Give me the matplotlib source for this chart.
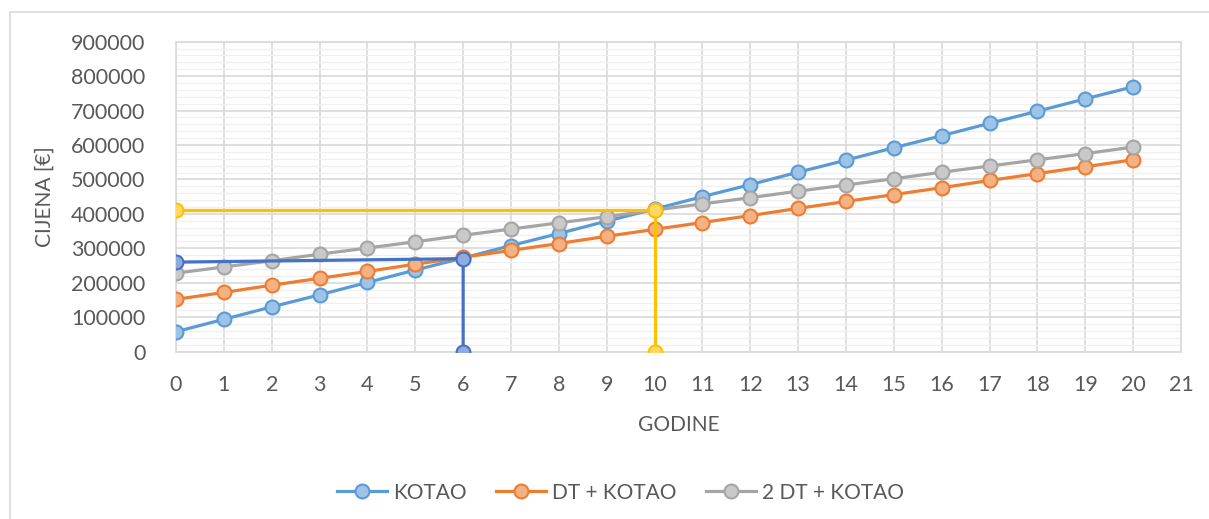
import matplotlib.pyplot as plt
from matplotlib.patches import Rectangle
from matplotlib.ticker import MultipleLocator

plt.rcParams['font.family'] = ['Lato', 'DejaVu Sans']

# years
godine = list(range(21))

kotao = [58000, 94000, 130000, 165000, 201000, 237000, 272000, 308000, 343000, 379000,
         414000, 450000, 485000, 521000, 556000, 592000, 627000, 663000, 698000, 734000, 769000]
dt_kotao = [152000, 172000, 193000, 213000, 233000, 254000, 274000, 294000, 314000, 335000,
            355000, 375000, 395000, 416000, 436000, 456000, 476000, 497000, 517000, 537000, 557000]
dt2_kotao = [228000, 246000, 264000, 283000, 301000, 319000, 338000, 356000, 374000, 392000,
             411000, 429000, 447000, 466000, 484000, 502000, 521000, 539000, 557000, 575000, 594000]

# helper lines (break-even points)
pov1_x = [0, 6, 6]
pov1_y = [260000, 270000, 0]
pov2_x = [0, 10, 10]
pov2_y = [410000, 410000, 0]

series = [
    (kotao, 'KOTAO', '#5B9BD5', '#9DC3E6'),
    (dt_kotao, 'DT + KOTAO', '#ED7D31', '#F4B183'),
    (dt2_kotao, '2 DT + KOTAO', '#A5A5A5', '#C9C9C9'),
]

fig = plt.figure(figsize=(12.09, 5.19), dpi=100)
ax = fig.add_axes([0.1456, 0.3224, 0.8312, 0.5973])

fig.patches.append(Rectangle((10 / 1209, -0.05), 1.2, 1 - 12 / 519 + 0.05,
                             transform=fig.transFigure, fill=False,
                             edgecolor='#D9D9D9', linewidth=1.2))

for vals, name, col, fill in series:
    ax.plot(godine, vals, color=col, linewidth=2.3, marker='o', markersize=10,
            markerfacecolor=fill, markeredgecolor=col, markeredgewidth=1.5,
            label=name, zorder=3)

ax.plot(pov1_x, pov1_y, color='#4472C4', linewidth=2.3, marker='o', markersize=10,
        markerfacecolor='#8FAADC', markeredgecolor='#4472C4', markeredgewidth=1.5, zorder=4)
ax.plot(pov2_x, pov2_y, color='#FFC000', linewidth=2.3, marker='o', markersize=10,
        markerfacecolor='#FFD966', markeredgecolor='#FFC000', markeredgewidth=1.5, zorder=4)

ax.set_xlim(0, 21)
ax.set_ylim(0, 900000)
ax.xaxis.set_major_locator(MultipleLocator(1))
ax.yaxis.set_major_locator(MultipleLocator(100000))
ax.yaxis.set_minor_locator(MultipleLocator(20000))
ax.grid(which='major', color='#D9D9D9', linewidth=1.2)
ax.grid(which='minor', axis='y', color='#F0F0F0', linewidth=1.0)
ax.set_axisbelow(True)
for s in ax.spines.values():
    s.set_color('#D9D9D9')
    s.set_linewidth(1.2)
ax.tick_params(which='both', length=0, labelsize=15.5, colors='#595959')
ax.tick_params(axis='y', pad=22)
ax.tick_params(axis='x', pad=17)
for lab in ax.get_xticklabels() + ax.get_yticklabels():
    lab.set_clip_on(False)

ax.set_xlabel('GODINE', fontsize=15, color='#595959', labelpad=14)
ax.set_ylabel('CIJENA [€]', fontsize=15, color='#595959', labelpad=12)

ax.legend(loc='center', bbox_to_anchor=(0.442, -0.455), ncol=3, frameon=False,
          fontsize=15, labelcolor='#595959', handlelength=2.4, columnspacing=1.4,
          handletextpad=0.3)

fig.savefig('out.png', dpi=100)
